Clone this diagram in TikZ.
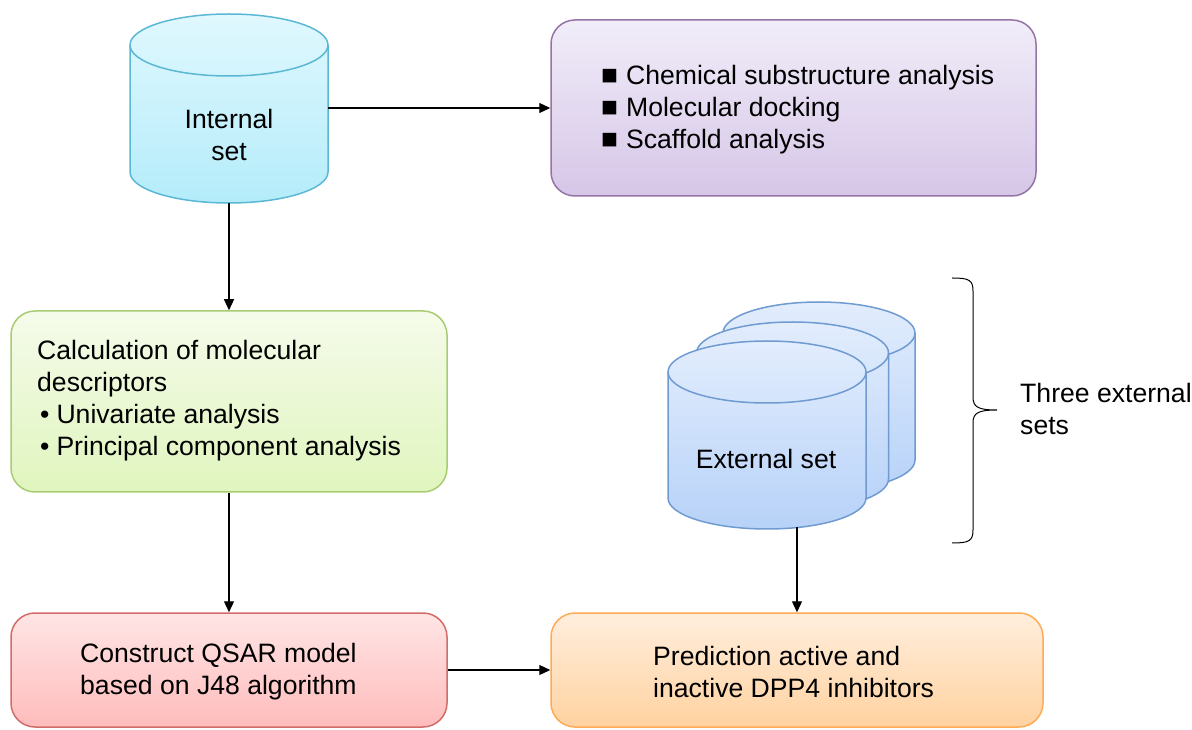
\documentclass[tikz,border=0pt]{standalone}
\usepackage{fontspec}
\setmainfont{Liberation Sans}
\usetikzlibrary{arrows.meta}
\definecolor{cyanTop}{HTML}{E0F8FE}
\definecolor{cyanBot}{HTML}{B4ECFA}
\definecolor{cyanLine}{HTML}{5BB8D5}
\definecolor{purTop}{HTML}{F1EDF9}
\definecolor{purBot}{HTML}{D6C6E7}
\definecolor{purLine}{HTML}{9673A6}
\definecolor{grnTop}{HTML}{F5FBEA}
\definecolor{grnBot}{HTML}{E0F5BE}
\definecolor{grnLine}{HTML}{A7CC72}
\definecolor{redTop}{HTML}{FFE5E5}
\definecolor{redBot}{HTML}{FFBCBC}
\definecolor{redLine}{HTML}{D26C68}
\definecolor{ornTop}{HTML}{FFEEDD}
\definecolor{ornBot}{HTML}{FFD2A0}
\definecolor{ornLine}{HTML}{FFAA55}
\definecolor{bluTop}{HTML}{E2EDFD}
\definecolor{bluBot}{HTML}{B7D2F8}
\definecolor{bluLine}{HTML}{6F9BD1}
\newcommand{\sqbul}{{\fontsize{28}{32}\selectfont ■}\hspace{8pt}}
\newcommand{\rndbul}{\hspace{3pt}•\hspace{7pt}}
\begin{document}
\begin{tikzpicture}[x=1pt,y=1pt,
  every node/.style={font=\fontsize{26.6}{32}\selectfont, inner sep=0pt},
  box/.style={rectangle, rounded corners=24pt, line width=1.5pt},
  txt/.style={align=left, anchor=west},
  arr/.style={line width=1.2pt, -{Triangle[length=11pt,width=10pt]}},
  cylbody/.style={line width=1.5pt}
]
\useasboundingbox (0,0) rectangle (1192,729);

% ---------- Internal set cylinder ----------
\draw[cylbody, draw=cyanLine, top color=cyanTop, bottom color=cyanBot]
  (130,684) -- (130,557) arc[start angle=180,end angle=360,x radius=99pt,y radius=31pt]
  -- (328,684) arc[start angle=0,end angle=180,x radius=99pt,y radius=31pt] -- cycle;
\draw[cylbody, draw=cyanLine] (130,684) arc[start angle=180,end angle=360,x radius=99pt,y radius=31pt];
\node[minimum width=198pt, minimum height=190pt] (int) at (229,621) {};
\node[align=center] (inttxt) at (229,594) {Internal\\set};

% ---------- Purple box ----------
\node[box, draw=purLine, top color=purTop, bottom color=purBot,
      minimum width=485pt, minimum height=176pt] (pur) at (793.5,621) {};
\node[txt] (purtxt) at (601,619) {\sqbul Chemical substructure analysis\\
\sqbul Molecular docking\\
\sqbul Scaffold analysis};

% ---------- Green box ----------
\node[box, draw=grnLine, top color=grnTop, bottom color=grnBot,
      minimum width=436pt, minimum height=181pt] (grn) at (229,327.5) {};
\node[txt] (grntxt) at (37,328) {Calculation of molecular\\descriptors\\
\rndbul Univariate analysis\\
\rndbul Principal component analysis};

% ---------- Red box ----------
\node[box, draw=redLine, top color=redTop, bottom color=redBot,
      minimum width=436pt, minimum height=114pt] (red) at (229,59) {};
\node[txt] (redtxt) at (80,57) {Construct QSAR model\\based on J48 algorithm};

% ---------- Orange box ----------
\node[box, draw=ornLine, top color=ornTop, bottom color=ornBot,
      minimum width=492pt, minimum height=114pt] (orn) at (797,59) {};
\node[txt] (orntxt) at (653,57) {Prediction active and\\inactive DPP4 inhibitors};

% ---------- External set cylinders ----------
% back
\draw[cylbody, draw=bluLine, top color=bluTop, bottom color=bluBot]
  (723,396) -- (723,269) arc[start angle=180,end angle=360,x radius=96pt,y radius=31pt]
  -- (915,396) arc[start angle=0,end angle=180,x radius=96pt,y radius=31pt] -- cycle;
\draw[cylbody, draw=bluLine] (723,396) arc[start angle=180,end angle=360,x radius=96pt,y radius=31pt];
% middle
\draw[cylbody, draw=bluLine, top color=bluTop, bottom color=bluBot]
  (696.5,376) -- (696.5,250) arc[start angle=180,end angle=360,x radius=96pt,y radius=31pt]
  -- (888.5,376) arc[start angle=0,end angle=180,x radius=96pt,y radius=31pt] -- cycle;
\draw[cylbody, draw=bluLine] (696.5,376) arc[start angle=180,end angle=360,x radius=96pt,y radius=31pt];
% front
\draw[cylbody, draw=bluLine, top color=bluTop, bottom color=bluBot]
  (668,357) -- (668,231) arc[start angle=180,end angle=360,x radius=99pt,y radius=31pt]
  -- (866,357) arc[start angle=0,end angle=180,x radius=99pt,y radius=31pt] -- cycle;
\draw[cylbody, draw=bluLine] (668,357) arc[start angle=180,end angle=360,x radius=99pt,y radius=31pt];
\node (exttxt) at (766,270) {External set};
\coordinate (extb) at (797,201.5);

% ---------- Brace ----------
\draw[line width=1pt] (952,451) .. controls (969,451) and (973,449) .. (973,438)
  -- (973,332) .. controls (973,322) and (978,319) .. (997,319)
  .. controls (978,319) and (973,316) .. (973,306)
  -- (973,199) .. controls (973,188) and (969,186) .. (952,186);
\node[txt] (three) at (1020,320) {Three external\\sets};

% ---------- Connectors ----------
\draw[arr] (int.east) -- (pur.west);
\draw[arr] (int.south) -- (grn.north);
\draw[arr] (grn.south) -- (red.north);
\draw[arr] (red.east) -- (orn.west);
\draw[arr] (extb) -- (orn.north);
\end{tikzpicture}
\end{document}
